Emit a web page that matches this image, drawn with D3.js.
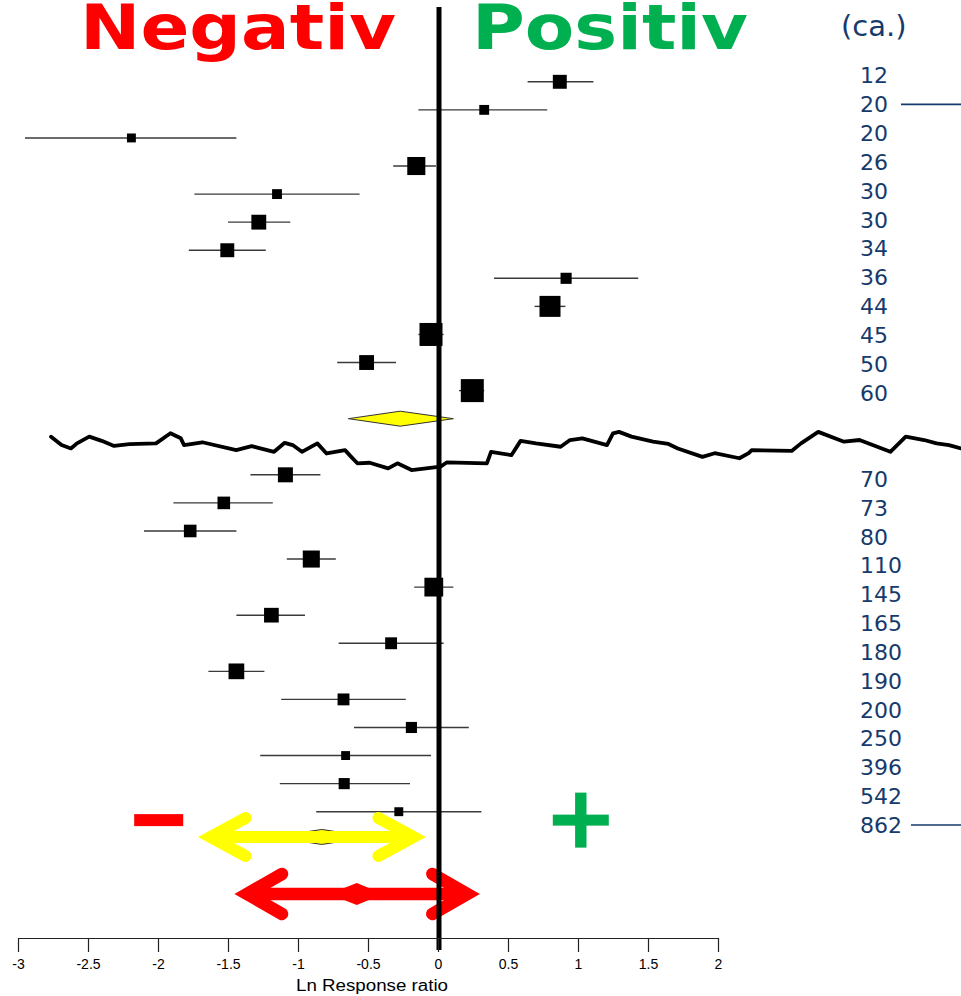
<!DOCTYPE html>
<html><head><meta charset="utf-8">
<script src="https://cdn.jsdelivr.net/npm/d3@7"></script>
<style>html,body{margin:0;padding:0;background:#fff;} svg{display:block}</style>
</head><body><svg id="c" width="961" height="996"></svg>
<script>
// ---------- DATA ----------
const topLabels = ["12","20","20","26","30","30","34","36","44","45","50","60"];
const topEst = [0.87, 0.33, -2.19, -0.155, -1.15, -1.28, -1.505, 0.915, 0.80, -0.05, -0.51, 0.245];
const topLo  = [0.64, -0.14, -2.95, -0.32, -1.74, -1.50, -1.78, 0.40, 0.69, -0.14, -0.72, 0.15];
const topHi  = [1.11, 0.78, -1.44, -0.015, -0.56, -1.055, -1.23, 1.43, 0.91, 0.04, -0.30, 0.33];
const topW   = [2.2, 1.1, 0.9, 3.7, 1.1, 2.5, 2.2, 1.4, 5.0, 6.0, 2.5, 6.0];

const botLabels = ["70","73","80","110","145","165","180","190","200","250","396","542","862"];
const botEst = [-1.09, -1.53, -1.77, -0.905, -0.03, -1.19, -0.335, -1.44, -0.675, -0.19, -0.66, -0.67, -0.28];
const botLo  = [-1.34, -1.89, -2.10, -1.08, -0.17, -1.44, -0.71, -1.64, -1.12, -0.60, -1.27, -1.13, -0.87];
const botHi  = [-0.84, -1.18, -1.44, -0.73, 0.11, -0.95, 0.04, -1.24, -0.23, 0.22, -0.05, -0.20, 0.31];
const botW   = [2.55, 1.8, 1.8, 3.3, 4.0, 2.45, 1.6, 2.8, 1.6, 1.4, 0.9, 1.4, 0.9];

const pooledEst = [-0.27, -0.83];
const pooledLo  = [-0.64, -1.18];
const pooledHi  = [0.11, -0.48];

const tickValues = [-3,-2.5,-2,-1.5,-1,-0.5,0,0.5,1,1.5,2];
const tickLabels = ["-3","-2.5","-2","-1.5","-1","-0.5","0","0.5","1","1.5","2"];

// annotation arrows (ln RR units)
const yellowArrowX = [-1.71, -0.09];
const redArrowX = [-1.45, 0.295];
const redMidDiamond = [-0.78, -0.58, -0.39];
const minusX = [-2.17, -1.82];
const plusX = 1.02;

// hand-drawn break line [ln RR, row]
const breakLine = [[-2.764,12.64],[-2.689,12.94],[-2.622,13.06],[-2.579,12.88],[-2.491,12.64],[-2.402,12.79],[-2.314,12.97],[-2.204,12.91],[-2.014,12.88],[-1.911,12.52],[-1.837,12.70],[-1.814,12.94],[-1.683,12.84],[-1.441,13.12],[-1.331,12.98],[-1.171,13.18],[-1.095,12.86],[-1.038,12.94],[-0.972,13.18],[-0.862,12.88],[-0.796,13.24],[-0.664,13.12],[-0.62,13.36],[-0.576,13.59],[-0.488,13.57],[-0.356,13.77],[-0.29,13.59],[-0.189,13.83],[0.018,13.71],[0.062,13.56],[0.349,13.59],[0.379,13.18],[0.524,13.30],[0.59,12.79],[0.70,12.88],[0.876,13.0],[0.943,12.76],[1.031,12.70],[1.207,12.94],[1.25,12.52],[1.293,12.47],[1.382,12.64],[1.536,12.82],[1.646,12.90],[1.713,13.06],[1.889,13.36],[1.976,13.23],[2.153,13.41],[2.219,13.23],[2.241,13.12],[2.526,13.15],[2.593,12.88],[2.716,12.47],[2.90,12.82],[3.011,12.76],[3.231,13.18],[3.341,12.64],[3.473,12.76],[3.561,12.88],[3.65,12.94],[3.736,13.06]];

// ---------- LAYOUT ----------
const svg = d3.select("#c");
const x = d3.scaleLinear().domain([-3,2]).range([18,718]);
const y = d3.scaleLinear().domain([0,26]).range([81.8,811.7]);
const yLabel = d3.scaleLinear().domain([0,26]).range([75.5,825]);
const size = d3.scaleSqrt().domain([0,6]).range([0,23]);
const navy = "#163a6b";

const rows = [];
topEst.forEach((e,i)=>rows.push({row:i, est:e, lo:topLo[i], hi:topHi[i], w:topW[i], label:topLabels[i]}));
botEst.forEach((e,i)=>rows.push({row:14+i, est:e, lo:botLo[i], hi:botHi[i], w:botW[i], label:botLabels[i]}));
const pooledRows = [12, 26.9];

// titles
svg.append("text").attr("x",80).attr("y",49).attr("textLength",316).attr("lengthAdjust","spacingAndGlyphs")
  .attr("font-family","DejaVu Sans").attr("font-weight","bold").attr("font-size",63).attr("fill","#ff0000").text("Negativ");
svg.append("text").attr("x",472).attr("y",49).attr("textLength",276).attr("lengthAdjust","spacingAndGlyphs")
  .attr("font-family","DejaVu Sans").attr("font-weight","bold").attr("font-size",63).attr("fill","#00b050").text("Positiv");
svg.append("text").attr("x",841).attr("y",36).attr("font-family","DejaVu Sans").attr("font-size",29).attr("fill",navy).text("(ca.)");

// whiskers
svg.append("g").selectAll("line").data(rows).join("line")
  .attr("x1",d=>x(d.lo)).attr("x2",d=>x(d.hi)).attr("y1",d=>y(d.row)).attr("y2",d=>y(d.row))
  .attr("stroke","#3a3a3a").attr("stroke-width",1.4);
// boxes
svg.append("g").selectAll("rect").data(rows).join("rect")
  .attr("x",d=>x(d.est)-size(d.w)/2).attr("y",d=>y(d.row)-size(d.w)/2)
  .attr("width",d=>size(d.w)).attr("height",d=>size(d.w)).attr("fill","#000");

// pooled diamonds
svg.append("g").selectAll("path").data(pooledRows).join("path")
  .attr("d",(r,i)=>{const yy=y(r);return `M${x(pooledLo[i])},${yy}L${x(pooledEst[i])},${yy-7.5}L${x(pooledHi[i])},${yy}L${x(pooledEst[i])},${yy+7.5}Z`;})
  .attr("fill","#ffff00").attr("stroke","#333").attr("stroke-width",1);

// labels on right
svg.append("g").selectAll("text").data(rows).join("text")
  .attr("x",860).attr("y",d=>yLabel(d.row)).attr("dy","0.36em")
  .attr("font-family","DejaVu Sans").attr("font-size",22).attr("fill",navy).text(d=>d.label);
svg.append("line").attr("x1",901).attr("x2",961).attr("y1",yLabel(1)).attr("y2",yLabel(1)).attr("stroke",navy).attr("stroke-width",1.6);
svg.append("line").attr("x1",911).attr("x2",961).attr("y1",yLabel(26)).attr("y2",yLabel(26)).attr("stroke",navy).attr("stroke-width",1.6);

// break line
svg.append("path").datum(breakLine)
  .attr("d",d3.line().x(d=>x(d[0])).y(d=>y(d[1])))
  .attr("fill","none").attr("stroke","#000").attr("stroke-width",3.8).attr("stroke-linejoin","round").attr("stroke-linecap","round");

// minus / plus
const mY = y(26.3);
svg.append("rect").attr("x",x(minusX[0])).attr("y",mY-6).attr("width",x(minusX[1])-x(minusX[0])).attr("height",12).attr("fill","#ff0000");
svg.append("rect").attr("x",x(plusX)-28).attr("y",mY-5.5).attr("width",56).attr("height",11).attr("fill","#00b050");
svg.append("rect").attr("x",x(plusX)-5.7).attr("y",mY-27.5).attr("width",11.4).attr("height",55).attr("fill","#00b050");

// arrows
function arrow(x1, x2, yy, color, w, ax, ay){
  const inset = 12;
  svg.append("line").attr("x1",x1+inset).attr("x2",x2-inset).attr("y1",yy).attr("y2",yy)
    .attr("stroke",color).attr("stroke-width",w);
  [[x1+inset, 1],[x2-inset,-1]].forEach(([vx,s])=>{
    svg.append("path").attr("d",`M${vx+s*ax},${yy-ay}L${vx},${yy}L${vx+s*ax},${yy+ay}`)
      .attr("fill","none").attr("stroke",color).attr("stroke-width",w)
      .attr("stroke-linejoin","miter").attr("stroke-miterlimit",10).attr("stroke-linecap","round");
  });
}
arrow(x(yellowArrowX[0]), x(yellowArrowX[1]), y(26.9), "#ffff00", 12, 35, 19);
const ry = y(28.93);
arrow(x(redArrowX[0]), x(redArrowX[1]), ry, "#ff0000", 12.5, 35, 20);
svg.append("path").attr("d",`M${x(redMidDiamond[0])},${ry}L${x(redMidDiamond[1])},${ry-11}L${x(redMidDiamond[2])},${ry}L${x(redMidDiamond[1])},${ry+11}Z`).attr("fill","#ff0000");

// zero line
svg.append("line").attr("x1",x(0)+1).attr("x2",x(0)+1).attr("y1",7).attr("y2",950).attr("stroke","#000").attr("stroke-width",5);

// axis
const ax = svg.append("g").attr("transform","translate(0,938)")
  .call(d3.axisBottom(x).tickValues(tickValues).tickFormat((d,i)=>tickLabels[i]).tickSize(14).tickSizeOuter(0).tickPadding(7));
ax.select(".domain").attr("stroke","#222").attr("stroke-width",1.2);
ax.selectAll(".tick line").attr("stroke","#222").attr("stroke-width",1.2);
ax.selectAll(".tick text").attr("font-family","Liberation Sans").attr("font-size",14).attr("fill","#000");
svg.append("text").attr("x",x(-0.5)+4).attr("y",991).attr("text-anchor","middle").attr("textLength",152).attr("lengthAdjust","spacingAndGlyphs")
  .attr("font-family","Liberation Sans").attr("font-size",16).attr("fill","#000").text("Ln Response ratio");
</script>
</body></html>
